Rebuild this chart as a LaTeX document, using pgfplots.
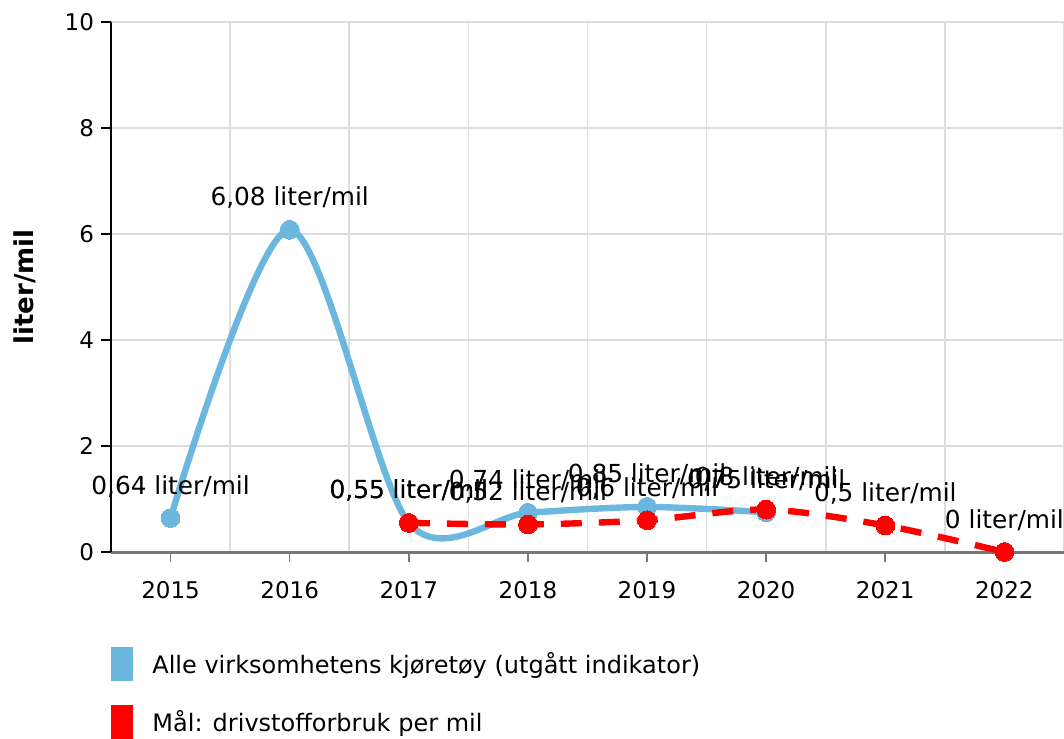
\documentclass[border=0pt]{standalone}
\usepackage{fontspec}
\setmainfont{DejaVu Sans}
\usepackage{pgfplots}
\pgfplotsset{compat=1.18}
\definecolor{blueC}{RGB}{107,183,222}
\definecolor{redC}{RGB}{255,0,0}
\definecolor{gridC}{RGB}{221,221,221}
\definecolor{axC}{RGB}{120,120,120}
\pgfplotstableread{
x y label
2015 0.64 0,64
2016 6.08 6,08
2017 0.55 0,55
2018 0.74 0,74
2019 0.85 0,85
2020 0.75 0,75
}\bluedata
\pgfplotstableread{
x y label
2017 0.55 0,55
2018 0.52 0,52
2019 0.6 0,6
2020 0.8 0,8
2021 0.5 0,5
2022 0 0
}\reddata
\begin{document}
\begin{tikzpicture}
\begin{axis}[
  name=ax,
  scale only axis,
  width=476.5pt, height=265pt,
  xmin=2014.5, xmax=2022.5,
  ymin=0, ymax=10,
  axis lines=left,
  axis line style={-},
  x axis line style={axC, line width=1.5pt},
  y axis line style={black, line width=0.8pt},
  xtick={2015,...,2022},
  minor xtick={2015.5,2016.5,2017.5,2018.5,2019.5,2020.5,2021.5,2022.5},
  ytick={0,2,4,6,8,10},
  xmajorgrids=false, xminorgrids=true, ymajorgrids=true,
  grid style={gridC, line width=0.8pt},
  minor grid style={gridC, line width=0.8pt},
  major tick length=5pt, minor tick length=0pt,
  tick align=outside,
  xtick style={axC, line width=0.8pt},
  ytick style={black, line width=0.8pt},
  /pgf/number format/1000 sep={},
  /pgf/number format/assume math mode=true,
  ticklabel style={font=\fontsize{11.5}{13}\selectfont, black},
  xticklabel style={yshift=-6pt},
  ylabel={\textbf{liter/mil}},
  ylabel style={font=\fontsize{13}{15}\selectfont, at={(axis description cs:-0.09,0.5)}, anchor=center},
  clip=false,
  legend style={at={(axis description cs:0,-0.179)}, anchor=north west, draw=none, fill=none, inner sep=0pt, row sep=12pt, column sep=7.5pt, font=\fontsize{12}{14}\selectfont, cells={anchor=west}},
  legend cell align=left,
  lbl/.style={point meta=explicit symbolic,
    nodes near coords={\pgfplotspointmeta\ liter/mil},
    every node near coord/.append style={font=\fontsize{12.4}{14}\selectfont, black, anchor=center, yshift=16pt, inner sep=0pt}},
]
\addplot[blueC, line width=3.2pt, smooth, tension=0.5, no markers, forget plot] table {\bluedata};
\addplot[only marks, lbl, mark=*, mark size=4.7pt, mark options={fill=blueC, draw=blueC, line width=0pt},
  legend image code/.code={\fill[blueC, draw=none, solid] (0pt,-8.5pt) rectangle (11pt,8.5pt);}]
  table[meta=label] {\bluedata};
\addlegendentry{Alle virksomhetens kjøretøy (utgått indikator)}
\addplot[redC, line width=3.2pt, smooth, lbl, dash pattern=on 10.5pt off 8.5pt, mark=*, mark size=4.7pt, mark options={solid, fill=redC, draw=redC, line width=0pt},
  legend image code/.code={\fill[redC, draw=none, solid, line width=0pt] (0pt,-8.5pt) rectangle (11pt,8.5pt);}]
  table[meta=label] {\reddata};
\addlegendentry{Mål: drivstofforbruk per mil}
\end{axis}
\pgfresetboundingbox
\path[use as bounding box] ([xshift=-55.5pt,yshift=-93pt]ax.south west) rectangle ([yshift=11pt]ax.north east);
\end{tikzpicture}
\end{document}
